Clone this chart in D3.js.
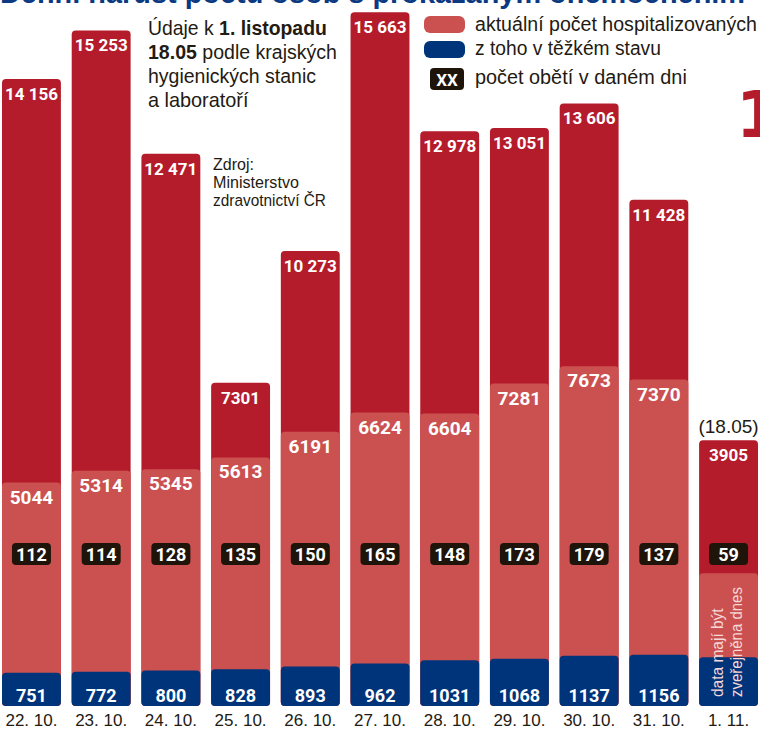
<!DOCTYPE html>
<html lang="cs">
<head>
  <meta charset="UTF-8">
  <title>Denní nárůst počtu osob s prokázaným onemocněním</title>
  <script src="https://cdn.jsdelivr.net/npm/d3@7"></script>
  <style>
    body { margin: 0; background: #fff; }
    svg { display: block; font-family: 'Liberation Sans Narrow', 'Liberation Sans', sans-serif; }
    .num { font-family: Roboto, 'Liberation Sans', sans-serif; font-weight: 700; }
  </style>
</head>
<body>
<script>
  // data
  const dates = ['22. 10.', '23. 10.', '24. 10.', '25. 10.', '26. 10.', '27. 10.', '28. 10.', '29. 10.', '30. 10.', '31. 10.', '1. 11.']
  const cases = [14156, 15253, 12471, 7301, 10273, 15663, 12978, 13051, 13606, 11428, 3905]
  const hospitalized = [5044, 5314, 5345, 5613, 6191, 6624, 6604, 7281, 7673, 7370, null]
  const serious = [751, 772, 800, 828, 893, 962, 1031, 1068, 1137, 1156, null]
  const deaths = [112, 114, 128, 135, 150, 165, 148, 173, 179, 137, 59]
  // 1.11. is incomplete - bar drawn with placeholder heights (cases, hospitalized, serious)
  const pendingBar = [6000, 3000, 1100]

  const width = 760
  const height = 729
  const baseY = 706
  const darkRed = '#b51c2b'
  const lightRed = '#cb5151'
  const blue = '#00347a'
  const boxColor = '#1e1409'
  const textColor = '#231a12'

  const fmt = v => v >= 10000 ? d3.format(',')(v).replace(',', ' ') : String(v)

  // squeeze a start-anchored text horizontally to a given width
  function fit(sel, target) {
    sel.each(function() {
      const b = this.getBBox()
      const f = target / b.width
      d3.select(this).attr('transform', `translate(${b.x * (1 - f)},0) scale(${f},1)`)
    })
  }

  const svg = d3.select('body').append('svg').attr('width', width).attr('height', height)

  const x = d3.scaleBand()
    .domain(dates)
    .range([2, 758])
    .paddingInner(0.155)
    .paddingOuter(0)

  const y = d3.scaleLinear()
    .domain([0, 16000])
    .range([baseY, baseY - 16000 * 0.04429])

  const last = dates.length - 1
  const casesBar = cases.map((v, i) => i === last ? pendingBar[0] : v)
  const hospBar = hospitalized.map(v => v == null ? pendingBar[1] : v)
  const seriousBar = serious.map(v => v == null ? pendingBar[2] : v)

  // title (cut off at the top)
  svg.append('text')
    .attr('x', 0).attr('y', 2.5)
    .attr('textLength', 745).attr('lengthAdjust', 'spacingAndGlyphs')
    .attr('font-weight', 700).style('font-size', '30px')
    .attr('fill', '#0b3a82')
    .text('Denní nárůst počtu osob s prokázaným onemocněním')

  // big red number cut off on the right
  svg.append('text')
    .attr('x', 736).attr('y', 137)
    .attr('font-weight', 700)
    .style('font-family', "'DejaVu Sans', sans-serif")
    .style('font-size', '64px')
    .attr('fill', darkRed)
    .text('1')

  const layer = (vals, color) => svg.append('g')
    .attr('fill', color)
    .selectAll('rect')
    .data(vals)
    .join('rect')
    .attr('x', (d, i) => x(dates[i]))
    .attr('y', d => y(d))
    .attr('width', x.bandwidth())
    .attr('height', d => baseY - y(d))
    .attr('rx', 4)

  layer(casesBar, darkRed)
  layer(hospBar, lightRed)
  layer(seriousBar, blue)

  const labels = (vals, yPos, size) => svg.append('g')
    .selectAll('text')
    .data(vals)
    .join('text')
    .attr('class', 'num')
    .attr('x', (d, i) => x(dates[i]) + x.bandwidth() / 2)
    .attr('y', yPos)
    .attr('text-anchor', 'middle')
    .style('font-size', size + 'px')
    .attr('fill', '#fff')
    .text(d => fmt(d))

  // new cases
  labels(cases, (d, i) => y(casesBar[i]) + 21, 17)
  // hospitalized
  labels(hospitalized.filter(d => d != null), d => y(d) + 21, 19)
  // serious
  labels(serious.filter(d => d != null), baseY - 4, 18)

  // deaths boxes
  const dg = svg.append('g').selectAll('g')
    .data(deaths)
    .join('g')
    .attr('transform', (d, i) => `translate(${x(dates[i]) + x.bandwidth() / 2},554)`)
  dg.append('rect')
    .attr('x', -19.5).attr('y', -11)
    .attr('width', 39).attr('height', 22)
    .attr('rx', 4)
    .attr('fill', boxColor)
  dg.append('text')
    .attr('class', 'num')
    .attr('y', 6.5)
    .attr('text-anchor', 'middle')
    .style('font-size', '18px')
    .attr('fill', '#fff')
    .text(d => d)

  // date axis
  svg.append('g')
    .attr('transform', `translate(0,${baseY})`)
    .call(d3.axisBottom(x).tickSize(0).tickPadding(8))
    .call(g => g.select('.domain').remove())
    .call(g => g.selectAll('text')
      .style('font-size', '17px')
      .attr('font-family', null)
      .attr('fill', textColor))

  // last day notes
  const cxLast = x(dates[last]) + x.bandwidth() / 2
  svg.append('text')
    .attr('x', cxLast).attr('y', 433)
    .attr('text-anchor', 'middle')
    .style('font-size', '19px')
    .attr('fill', textColor)
    .text('(18.05)')
  const vt = svg.append('g')
    .attr('transform', `translate(${cxLast},697) rotate(-90)`)
    .attr('fill', '#f5d8d8')
    .style('font-size', '17px')
  vt.append('text').attr('x', 0).attr('y', -6).text('data mají být')
  vt.append('text').attr('x', 0).attr('y', 13).text('zveřejněna dnes')
  fit(vt.selectAll('text').filter((d, i) => i === 0), 89)
  fit(vt.selectAll('text').filter((d, i) => i === 1), 110)

  // note
  const note = svg.append('g')
    .style('font-size', '20px')
    .attr('fill', textColor)
  const noteLines = [
    [['Údaje k ', 400], ['1. listopadu', 700]],
    [['18.05', 700], [' podle krajských', 400]],
    [['hygienických stanic', 400]],
    [['a laboratoří', 400]]
  ]
  const noteWidths = [179, 189, 168, 101]
  noteLines.forEach((parts, i) => {
    const t = note.append('text').attr('x', 148).attr('y', 35 + i * 24)
    parts.forEach(p => t.append('tspan').attr('font-weight', p[1]).text(p[0]))
    fit(t, noteWidths[i])
  })

  const src = svg.append('g')
    .style('font-size', '17px')
    .attr('fill', textColor)
  const srcLines = ['Zdroj:', 'Ministerstvo', 'zdravotnictví ČR']
  const srcWidths = [41, 86, 113]
  srcLines.forEach((s, i) => {
    const t = src.append('text').attr('x', 213).attr('y', 170 + i * 18).text(s)
    fit(t, srcWidths[i])
  })

  // legend
  const legend = svg.append('g').attr('transform', 'translate(424,0)')
  legend.append('rect').attr('x', 0).attr('y', 16).attr('width', 41).attr('height', 17).attr('rx', 6).attr('fill', lightRed)
  legend.append('rect').attr('x', 0).attr('y', 41).attr('width', 41).attr('height', 17).attr('rx', 6).attr('fill', blue)
  legend.append('rect').attr('x', 6).attr('y', 68).attr('width', 34).attr('height', 22).attr('rx', 4).attr('fill', boxColor)
  legend.append('text').attr('class', 'num').attr('x', 23).attr('y', 85.5).attr('text-anchor', 'middle')
    .style('font-size', '17px').attr('fill', '#fff').text('XX')
  const legTexts = ['aktuální počet hospitalizovaných', 'z toho v těžkém stavu', 'počet obětí v daném dni']
  const legWidths = [282, 186, 212]
  legTexts.forEach((s, i) => {
    const t = legend.append('text')
      .attr('x', 51)
      .attr('y', [31, 55, 84][i])
      .style('font-size', '21px')
      .attr('fill', textColor)
      .text(s)
    fit(t, legWidths[i])
  })
</script>
</body>
</html>
